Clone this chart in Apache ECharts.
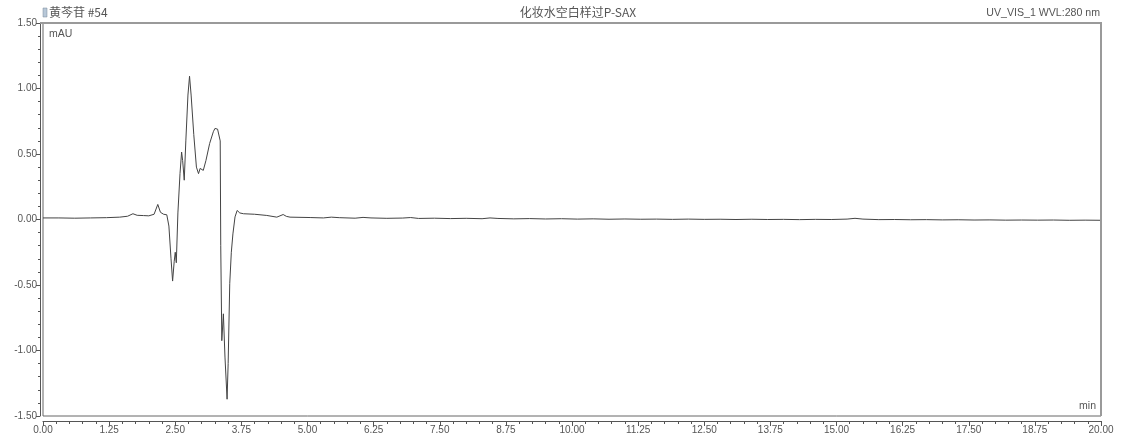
<!DOCTYPE html>
<html>
<head>
<meta charset="utf-8">
<script src="https://cdn.jsdelivr.net/npm/echarts@6/dist/echarts.min.js"></script>
<style>
html,body{margin:0;padding:0;background:#fff;}
#c{width:1123px;height:438px;}
</style>
</head>
<body>
<div id="c"></div>
<script>
// Retention time (min)
var times = [0.00,0.30,0.60,0.90,1.20,1.45,1.60,1.70,1.78,1.90,2.00,2.10,2.17,2.22,2.28,2.34,
  2.38,2.42,2.45,2.48,2.50,2.52,2.55,2.59,2.62,2.64,2.67,2.70,2.74,2.77,2.80,2.85,2.90,2.94,2.97,2.99,
  3.03,3.08,3.15,3.22,3.25,3.28,3.30,3.33,3.35,3.36,3.38,3.41,3.44,3.48,3.50,3.53,3.56,3.59,3.63,3.67,3.72,
  3.79,4.00,4.23,4.42,4.54,4.60,4.67,5.05,5.30,5.45,5.60,5.90,6.05,6.20,6.50,6.80,6.95,7.10,7.40,7.70,8.00,8.30,8.45,8.60,
  8.90,9.20,9.50,9.80,10.10,10.40,10.70,11.00,11.30,11.60,11.90,12.20,12.50,12.80,13.10,13.40,13.70,
  14.00,14.30,14.60,14.90,15.20,15.35,15.50,15.80,16.10,16.40,16.70,17.00,17.30,17.60,17.90,18.20,
  18.50,18.80,19.10,19.40,19.70,20.00];
// Signal (mAU)
var signal = [0.012,0.012,0.010,0.012,0.014,0.018,0.025,0.044,0.032,0.030,0.028,0.040,0.115,0.055,0.040,0.036,
  -0.05,-0.30,-0.47,-0.32,-0.25,-0.33,0.05,0.35,0.515,0.45,0.30,0.60,0.95,1.094,0.95,0.65,0.40,0.35,0.39,0.405,
  0.375,0.45,0.58,0.67,0.695,0.680,0.690,0.686,0.60,-0.20,-0.925,-0.72,-1.05,-1.372,-1.10,-0.49,-0.25,-0.11,0.02,0.069,0.050,
  0.044,0.040,0.031,0.018,0.038,0.024,0.018,0.015,0.012,0.018,0.014,0.010,0.016,0.012,0.009,0.011,0.015,0.008,0.010,0.007,0.009,0.006,0.012,0.008,
  0.005,0.007,0.004,0.006,0.003,0.005,0.002,0.004,0.002,0.003,0.001,0.003,0.001,0.002,0.000,0.002,0.000,
  0.001,-0.001,0.001,0.000,0.003,0.009,0.003,-0.001,0.000,-0.002,-0.001,-0.003,-0.002,-0.004,-0.003,-0.005,
  -0.004,-0.005,-0.004,-0.006,-0.005,-0.006];
var sampleTitle = '黄芩苷 #54';
var chartTitle = '化妆水空白样过P-SAX';
var channelTitle = 'UV_VIS_1 WVL:280 nm';
var yUnit = 'mAU';
var xUnit = 'min';

var pts = times.map(function(t,i){return [t, signal[i]];});
var font = 'Liberation Sans, Arial, sans-serif';
var chart = echarts.init(document.getElementById('c'));
chart.setOption({
  animation:false,
  backgroundColor:'#fff',
  grid:{left:43,right:22,top:23,bottom:22,show:true,borderColor:'#666',borderWidth:1,backgroundColor:'#fff'},
  xAxis:{type:'value',min:0,max:20,interval:1.25,offset:5,
    axisLine:{show:true,onZero:false,lineStyle:{color:'#555',width:1}},
    axisTick:{show:true,inside:false,length:5,lineStyle:{color:'#555'}},
    minorTick:{show:true,splitNumber:5,length:3,lineStyle:{color:'#555'}},
    axisLabel:{color:'#555',fontSize:10,fontFamily:font,margin:4,formatter:function(v){return v.toFixed(2);}},
    splitLine:{show:false}},
  yAxis:{type:'value',min:-1.5,max:1.5,interval:0.5,offset:3,
    axisLine:{show:true,onZero:false,lineStyle:{color:'#555',width:1}},
    axisTick:{show:true,inside:false,length:4,lineStyle:{color:'#555'}},
    minorTick:{show:true,splitNumber:5,length:2,lineStyle:{color:'#555'}},
    axisLabel:{color:'#555',fontSize:10,fontFamily:font,margin:3,formatter:function(v){return v.toFixed(2);}},
    splitLine:{show:false}},
  series:[{type:'line',data:pts,symbol:'none',smooth:false,
    lineStyle:{color:'#444',width:1}}],
  graphic:[
    {type:'line',shape:{x1:40,y1:23,x2:1102,y2:23},style:{stroke:'#9a9a9a',lineWidth:2},z:100},
    {type:'line',shape:{x1:1101,y1:22,x2:1101,y2:416},style:{stroke:'#9a9a9a',lineWidth:2},z:100},
    {type:'rect',shape:{x:43,y:8,width:4,height:9},style:{fill:'#b8c8d8',stroke:'#7a8a9a',lineWidth:0.5},z:100},
    {type:'text',left:49,top:6,style:{text:sampleTitle,font:'12px "Noto Sans CJK SC", '+font,fill:'#555'},z:100},
    {type:'text',x:578,y:12,style:{text:chartTitle,font:'12px "Noto Sans CJK SC", '+font,fill:'#555',textAlign:'center',textVerticalAlign:'middle'},z:100},
    {type:'text',x:1100,y:13,style:{text:channelTitle,font:'10.6px '+font,fill:'#555',textAlign:'right',textVerticalAlign:'middle'},z:100},
    {type:'text',x:49,y:34,style:{text:yUnit,font:'10.5px '+font,fill:'#555',textVerticalAlign:'middle'},z:100},
    {type:'text',x:1096,y:406,style:{text:xUnit,font:'10.5px '+font,fill:'#555',textAlign:'right',textVerticalAlign:'middle'},z:100}
  ]
});
</script>
</body>
</html>
